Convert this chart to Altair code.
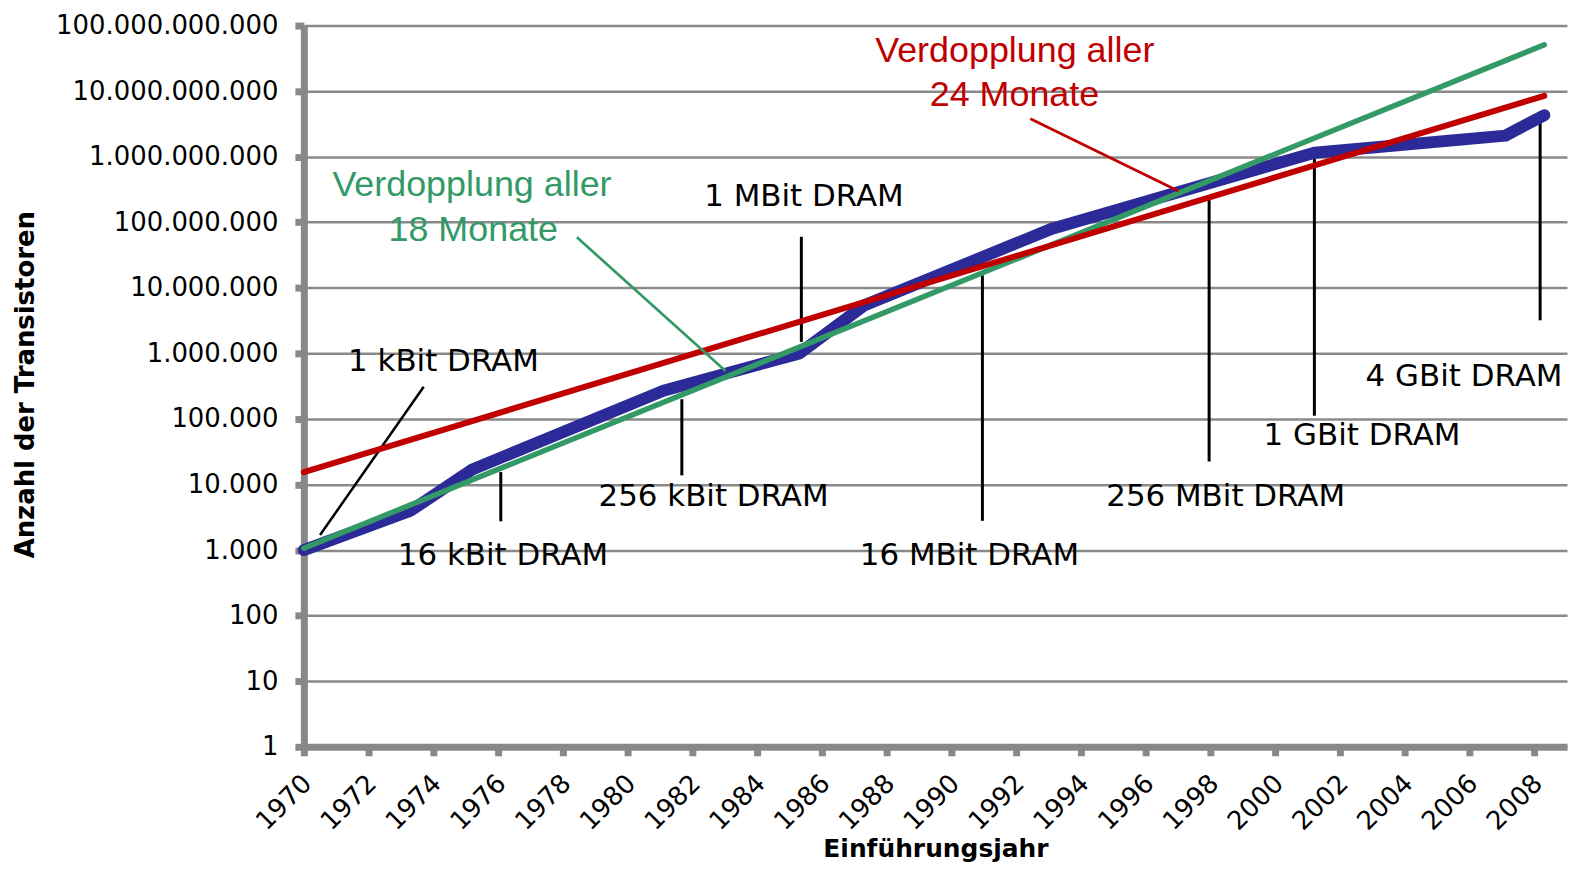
import altair as alt
import pandas as pd

# ---- data ----
dram_years = [1970, 1973.3, 1975.2, 1981.1, 1985.3, 1987.3, 1993.1, 2001.2, 2007.1, 2008.3]
dram_counts = [1000, 4000, 17000, 270000, 1.0e6, 5.4e6, 8.0e7, 1.15e9, 2.1e9, 4.3e9]

trend24_years = [1970, 2008.3]
trend24_counts = [15500, 8.5e9]
trend18_years = [1970, 2008.3]
trend18_counts = [1070, 5.1e10]

marker_years = [1976.08, 1981.67, 1985.36, 1990.95, 1997.95, 2001.2, 2008.17]
marker_tops = [15500, 2.0e5, 6.0e7, 1.55e7, 2.5e8, 1.38e9, 3.5e9]
marker_bottoms = [2750, 13800, 1.5e6, 2800, 22400, 1.12e5, 3.2e6]

kbit_pointer_years = [1970.5, 1973.7]
kbit_pointer_counts = [1700, 3.1e5]

label_texts = ["1 kBit DRAM", "16 kBit DRAM", "256 kBit DRAM", "1 MBit DRAM",
               "16 MBit DRAM", "256 MBit DRAM", "1 GBit DRAM", "4 GBit DRAM"]
label_years = [1974.31, 1976.15, 1982.65, 1985.44, 1990.55, 1998.46, 2002.67, 2005.82]
label_counts = [7.4e5, 800, 6500, 2.45e8, 800, 6500, 5.4e4, 4.4e5]

green_texts = ["Verdopplung aller", "18 Monate"]
green_text_years = [1975.19, 1975.23]
green_text_counts = [3.66e8, 7.7e7]
green_pointer_years = [1978.43, 1983.02]
green_pointer_counts = [5.9e7, 5.4e5]

red_texts = ["Verdopplung aller", "24 Monate"]
red_text_years = [1991.95, 1991.94]
red_text_counts = [4.14e10, 8.8e9]
red_pointer_years = [1992.43, 1997.0]
red_pointer_counts = [3.8e9, 3.0e8]

y_ticks = [1, 10, 100, 1000, 1e4, 1e5, 1e6, 1e7, 1e8, 1e9, 1e10, 1e11]
x_ticks = list(range(1970, 2009, 2))

BLUE = "#2B2A98"
GREEN = "#339966"
RED = "#C00000"
AXIS_GRAY = "#888888"

xs = alt.Scale(domain=[1970, 2009], nice=False, zero=False)
ys = alt.Scale(type="log", domain=[1, 1e11], nice=False)

xaxis = alt.Axis(
    values=x_ticks, format="d", grid=False,
    labelAngle=-45, labelAlign="right", labelBaseline="top",
    labelFont="DejaVu Sans", labelFontSize=26, labelColor="black",
    labelPadding=14, labelOffset=-6, labelLimit=400,
    domainColor=AXIS_GRAY, domainWidth=7,
    tickColor=AXIS_GRAY, tickWidth=7, tickSize=9,
    title="Einführungsjahr", titleFont="DejaVu Sans", titleFontSize=25,
    titleFontWeight="bold", titleColor="black",
    titleX=634, titleY=102, titleAlign="center", titleBaseline="middle",
    labelOverlap=False,
)
yaxis = alt.Axis(
    values=y_ticks,
    labelExpr="join(split(format(datum.value, ','), ','), '.')",
    grid=True, gridColor="#8a8a8a", gridWidth=2.5,
    domainColor=AXIS_GRAY, domainWidth=7,
    tickColor=AXIS_GRAY, tickWidth=7, tickSize=9,
    labelFont="DejaVu Sans", labelFontSize=26, labelColor="black",
    labelPadding=17, labelOverlap=False, labelLimit=400,
    title="Anzahl der Transistoren", titleFont="DejaVu Sans", titleFontSize=26,
    titleFontWeight="bold", titleColor="black",
    titleX=-279, titleY=360, titleAlign="center", titleBaseline="middle",
    titleAngle=270,
)


def X(field):
    return alt.X(field, type="quantitative", scale=xs, axis=xaxis)


def Y(field):
    return alt.Y(field, type="quantitative", scale=ys, axis=yaxis)


markers_df = pd.DataFrame({"year": marker_years, "year2": marker_years,
                           "top": marker_tops, "bottom": marker_bottoms})
markers = alt.Chart(markers_df).mark_rule(color="black", strokeWidth=3).encode(
    x=X("year"), x2="year2:Q", y=Y("top"), y2="bottom:Q")

kbit_df = pd.DataFrame({"year": kbit_pointer_years, "count": kbit_pointer_counts})
kbit_ptr = alt.Chart(kbit_df).mark_line(color="black", strokeWidth=2.5).encode(
    x=X("year"), y=Y("count"))

blue_df = pd.DataFrame({"year": dram_years, "count": dram_counts})
blue = alt.Chart(blue_df).mark_line(color=BLUE, strokeWidth=12, strokeCap="round",
                                    strokeJoin="round").encode(x=X("year"), y=Y("count"))

green_df = pd.DataFrame({"year": trend18_years, "count": trend18_counts})
green = alt.Chart(green_df).mark_line(color=GREEN, strokeWidth=5.5, strokeCap="round").encode(
    x=X("year"), y=Y("count"))

red_df = pd.DataFrame({"year": trend24_years, "count": trend24_counts})
red = alt.Chart(red_df).mark_line(color=RED, strokeWidth=6, strokeCap="round").encode(
    x=X("year"), y=Y("count"))

gptr_df = pd.DataFrame({"year": green_pointer_years, "count": green_pointer_counts})
gptr = alt.Chart(gptr_df).mark_line(color=GREEN, strokeWidth=2.7).encode(
    x=X("year"), y=Y("count"))

rptr_df = pd.DataFrame({"year": red_pointer_years, "count": red_pointer_counts})
rptr = alt.Chart(rptr_df).mark_line(color=RED, strokeWidth=2.7).encode(
    x=X("year"), y=Y("count"))

labels_df = pd.DataFrame({"year": label_years, "count": label_counts, "text": label_texts})
labels = alt.Chart(labels_df).mark_text(font="DejaVu Sans", fontSize=31, color="black",
                                        align="center", baseline="middle").encode(
    x=X("year"), y=Y("count"), text="text:N")

gtxt_df = pd.DataFrame({"year": green_text_years, "count": green_text_counts, "text": green_texts})
gtxt = alt.Chart(gtxt_df).mark_text(font="Liberation Sans", fontSize=36, color=GREEN,
                                    align="center", baseline="middle").encode(
    x=X("year"), y=Y("count"), text="text:N")

rtxt_df = pd.DataFrame({"year": red_text_years, "count": red_text_counts, "text": red_texts})
rtxt = alt.Chart(rtxt_df).mark_text(font="Liberation Sans", fontSize=36, color=RED,
                                    align="center", baseline="middle").encode(
    x=X("year"), y=Y("count"), text="text:N")

chart = alt.layer(
    markers, kbit_ptr, blue, green, red, gptr, rptr, labels, gtxt, rtxt
).properties(
    width=1268, height=724,
    padding={"left": 297, "top": 16, "right": 4, "bottom": 119},
    autosize=alt.AutoSizeParams(type="none"),
    background="white",
).configure_view(stroke=None)

chart.save("out.html", embed_options={"renderer": "svg", "actions": False})
